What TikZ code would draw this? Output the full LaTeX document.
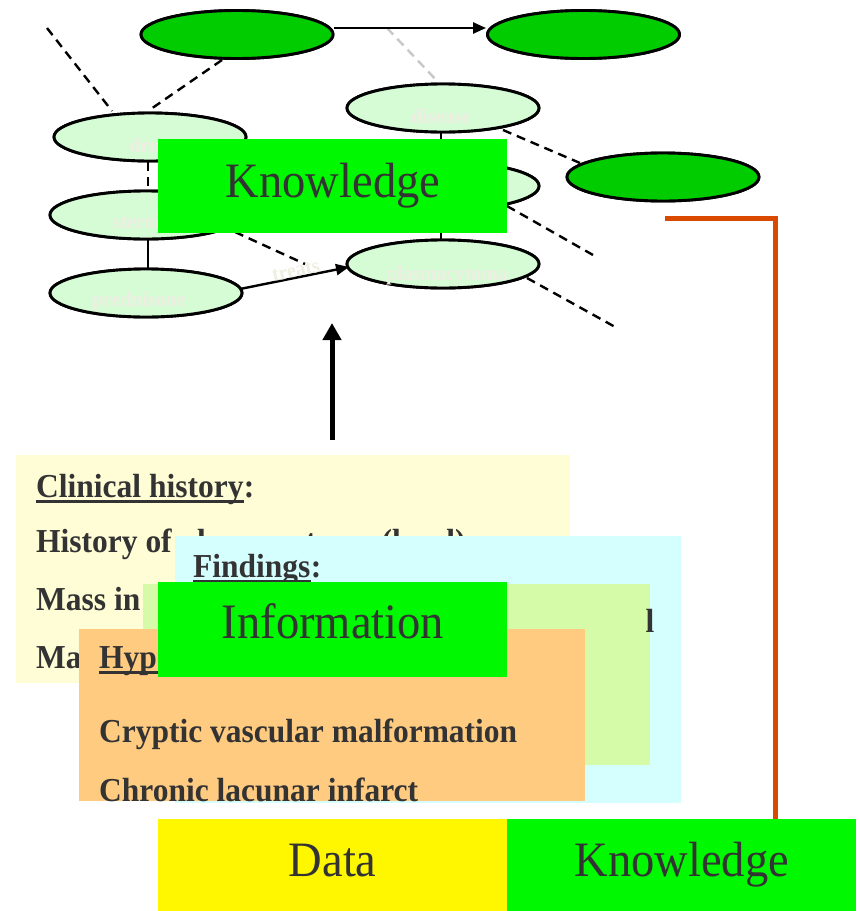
\documentclass[tikz,border=0pt]{standalone}
\usepackage{fontspec}
\setmainfont{Liberation Serif}
\newfontfamily\narrowserif[FakeStretch=0.94]{Liberation Serif}
\usetikzlibrary{shapes.geometric,arrows.meta}

\definecolor{darkbub}{HTML}{00CC00}
\definecolor{lightbub}{HTML}{D6FCD6}
\definecolor{bannergreen}{HTML}{00F800}
\definecolor{datayellow}{HTML}{FFF700}
\definecolor{cream}{HTML}{FFFDD5}
\definecolor{paleaqua}{HTML}{D5FFFF}
\definecolor{palelime}{HTML}{D5FBA8}
\definecolor{peach}{HTML}{FFCB80}
\definecolor{rust}{HTML}{D94A00}
\definecolor{ink}{HTML}{333333}
\definecolor{faintlabel}{HTML}{EEEEE2}
\definecolor{ghostline}{HTML}{C8C8C8}

\begin{document}
\begin{tikzpicture}[x=1pt,y=-1pt,
  bubble/.style={ellipse, draw=black, line width=2.9pt, minimum width=192pt,
    minimum height=48pt, inner sep=0pt},
  darkbub/.style={bubble, fill=darkbub},
  lightbub/.style={bubble, fill=lightbub},
  link/.style={draw=black, line width=2.4pt},
  dashlink/.style={link, dash pattern=on 9pt off 6pt},
  faint/.style={text=faintlabel, font=\narrowserif\bfseries\fontsize{21}{21}\selectfont,
    inner sep=0pt, anchor=base},
  banner/.style={inner sep=0pt, anchor=north west, minimum width=349pt},
  bigword/.style={text=ink, font=\narrowserif\fontsize{49.5}{49.5}\selectfont, inner sep=0pt, anchor=base},
  panel/.style={inner sep=0pt, anchor=north west},
  body/.style={text=ink, font=\narrowserif\bfseries\fontsize{33.5}{33.5}\selectfont, inner sep=0pt,
    anchor=base west},
  uline/.style={draw=ink, line width=2.6pt},
]
\useasboundingbox (0,0) rectangle (860,911);

% ---------- concept graph ----------
\node[darkbub] (cause) at (237,34.5) {};
\node[darkbub] (effect) at (583.5,34.5) {};
\node[darkbub] (outcome) at (663,177) {};
\node[lightbub] (disease) at (443,108) {};
\node[lightbub] (middle) at (443,186) {};
\node[lightbub] (plasma) at (443,264) {};
\node[lightbub] (drug) at (150,137) {};
\node[lightbub] (steroid) at (146,215) {};
\node[lightbub] (pred) at (146,293) {};

% free ends and contact points of the links
\coordinate (farleft) at (47,28);
\coordinate (drugtopl) at (112,111);
\coordinate (drugtopr) at (148,111);
\coordinate (causebot) at (222,60);
\coordinate (ghoststart) at (387,28);
\coordinate (diseasetop) at (440,84);
\coordinate (diseaseright) at (503,130);
\coordinate (outcomeleft) at (580,163);
\coordinate (middleright) at (507,206);
\coordinate (middlefree) at (593,255);
\coordinate (plasmaright) at (527,278);
\coordinate (plasmafree) at (617,328);
\coordinate (steroidright) at (235,232);
\coordinate (steroidfree) at (305,264);
\coordinate (predright) at (240,289);
\coordinate (plasmaleft) at (349,267);

\draw[dashlink] (farleft) -- (drugtopl);
\draw[dashlink] (causebot) -- (drugtopr);
\draw[draw=ghostline, line width=2.4pt, dash pattern=on 9pt off 6pt] (ghoststart) -- (diseasetop);
\draw[dashlink] (diseaseright) -- (outcomeleft);
\draw[dashlink] (middleright) -- (middlefree);
\draw[dashlink] (plasmaright) -- (plasmafree);
\draw[dashlink] (steroidright) -- (steroidfree);

\draw[link, -{Triangle[length=13pt,width=11pt]}]
  ([yshift=6.5pt]cause.east) -- ([yshift=6.5pt]effect.west);
\draw[dashlink] ([xshift=-2pt]drug.south) -- ([xshift=2pt]steroid.north);
\draw[link] ([xshift=2pt]steroid.south) -- ([xshift=2pt]pred.north);
\draw[link] ([xshift=-2pt]disease.south) -- ([xshift=-2pt]middle.north);
\draw[link] ([xshift=-2pt]middle.south) -- ([xshift=-2pt]plasma.north);

% redraw the bubbles over the link ends
\node[darkbub] at (cause) {};
\node[darkbub] at (effect) {};
\node[darkbub] at (outcome) {};
\node[lightbub] at (disease) {};
\node[lightbub] at (middle) {};
\node[lightbub] at (plasma) {};
\node[lightbub] at (drug) {};
\node[lightbub] at (steroid) {};
\node[lightbub] at (pred) {};

\draw[link, -{Triangle[length=13pt,width=11pt]}] (predright) -- (plasmaleft);

\node[faint] (ldrug) at (150,152) {drug};
\node[faint] (lsteroid) at (142,228) {steroid};
\node[faint] (lpred) at (139,306) {prednisone};
\node[faint] (ldisease) at (441,123) {disease};
\node[faint] (lplasma) at (447,280) {plasmacytoma};
\node[faint, anchor=center, rotate=11.5] (ltreats) at (296,271) {treats};

% ---------- top banner ----------
\node[banner, fill=bannergreen, minimum height=94pt] (know1) at (158,139) {};
\node[bigword] (know1t) at (333,197) {Knowledge};

% ---------- upward arrow ----------
\coordinate (arrowfoot) at (332,440);
\coordinate (arrowtip) at (332,323);
\draw[line width=5pt, -{Triangle[length=17pt,width=18pt]}] (arrowfoot) -- (arrowtip);

% ---------- rust connector ----------
\coordinate (rstart) at (665,218);
\coordinate (rcorner) at (775,218);

% ---------- stacked panels ----------
\node[panel, fill=cream, minimum width=554pt, minimum height=228pt] (history) at (16,455) {};
\node[body] (hhead) at (36,497) {Clinical history};
\node[body] at (hhead.base east) {:};
\draw[uline] ([yshift=-4.5pt]hhead.base west) -- ([yshift=-4.5pt]hhead.base east);
\node[body] (hl1) at (36,552) {History of plasmacytoma (local)};
\node[body] (hl2) at (36,610) {Mass in};
\node[body] (hl3) at (36,668) {Ma};

\node[panel, fill=paleaqua, minimum width=506pt, minimum height=267pt] (findings) at (175,536) {};
\node[body] (fhead) at (193,577) {Findings};
\node[body] at (fhead.base east) {:};
\draw[uline] ([yshift=-4.5pt]fhead.base west) -- ([yshift=-4.5pt]fhead.base east);

\node[panel, fill=palelime, minimum width=507pt, minimum height=181pt] (lime) at (143,584) {};
\node[body] (stray) at (645.5,632) {l};

\node[panel, fill=peach, minimum width=506pt, minimum height=172pt] (hypo) at (79,629) {};
\node[body] (yhead) at (99,668) {Hypotheses};
\node[body] at (yhead.base east) {:};
\draw[uline] ([yshift=-4.5pt]yhead.base west) -- ([yshift=-4.5pt]yhead.base east);
\node[body] (y1) at (99,742) {Cryptic vascular malformation};
\node[body] (y2) at (99,801) {Chronic lacunar infarct};

\node[banner, fill=bannergreen, minimum height=95pt] (info) at (158,582) {};
\node[bigword] (infot) at (333,638) {Information};

% ---------- bottom bar ----------
\draw[draw=rust, line width=5pt] (rstart) -- (rcorner) -- (rcorner |- 0,819);
\node[banner, fill=datayellow, minimum height=92pt] (data) at (158,819) {};
\node[bigword] (datat) at (data.center |- 0,876) {Data};
\node[banner, fill=bannergreen, minimum height=92pt] (know2) at (507,819) {};
\node[bigword] (know2t) at (know2.center |- 0,876) {Knowledge};
\end{tikzpicture}
\end{document}
